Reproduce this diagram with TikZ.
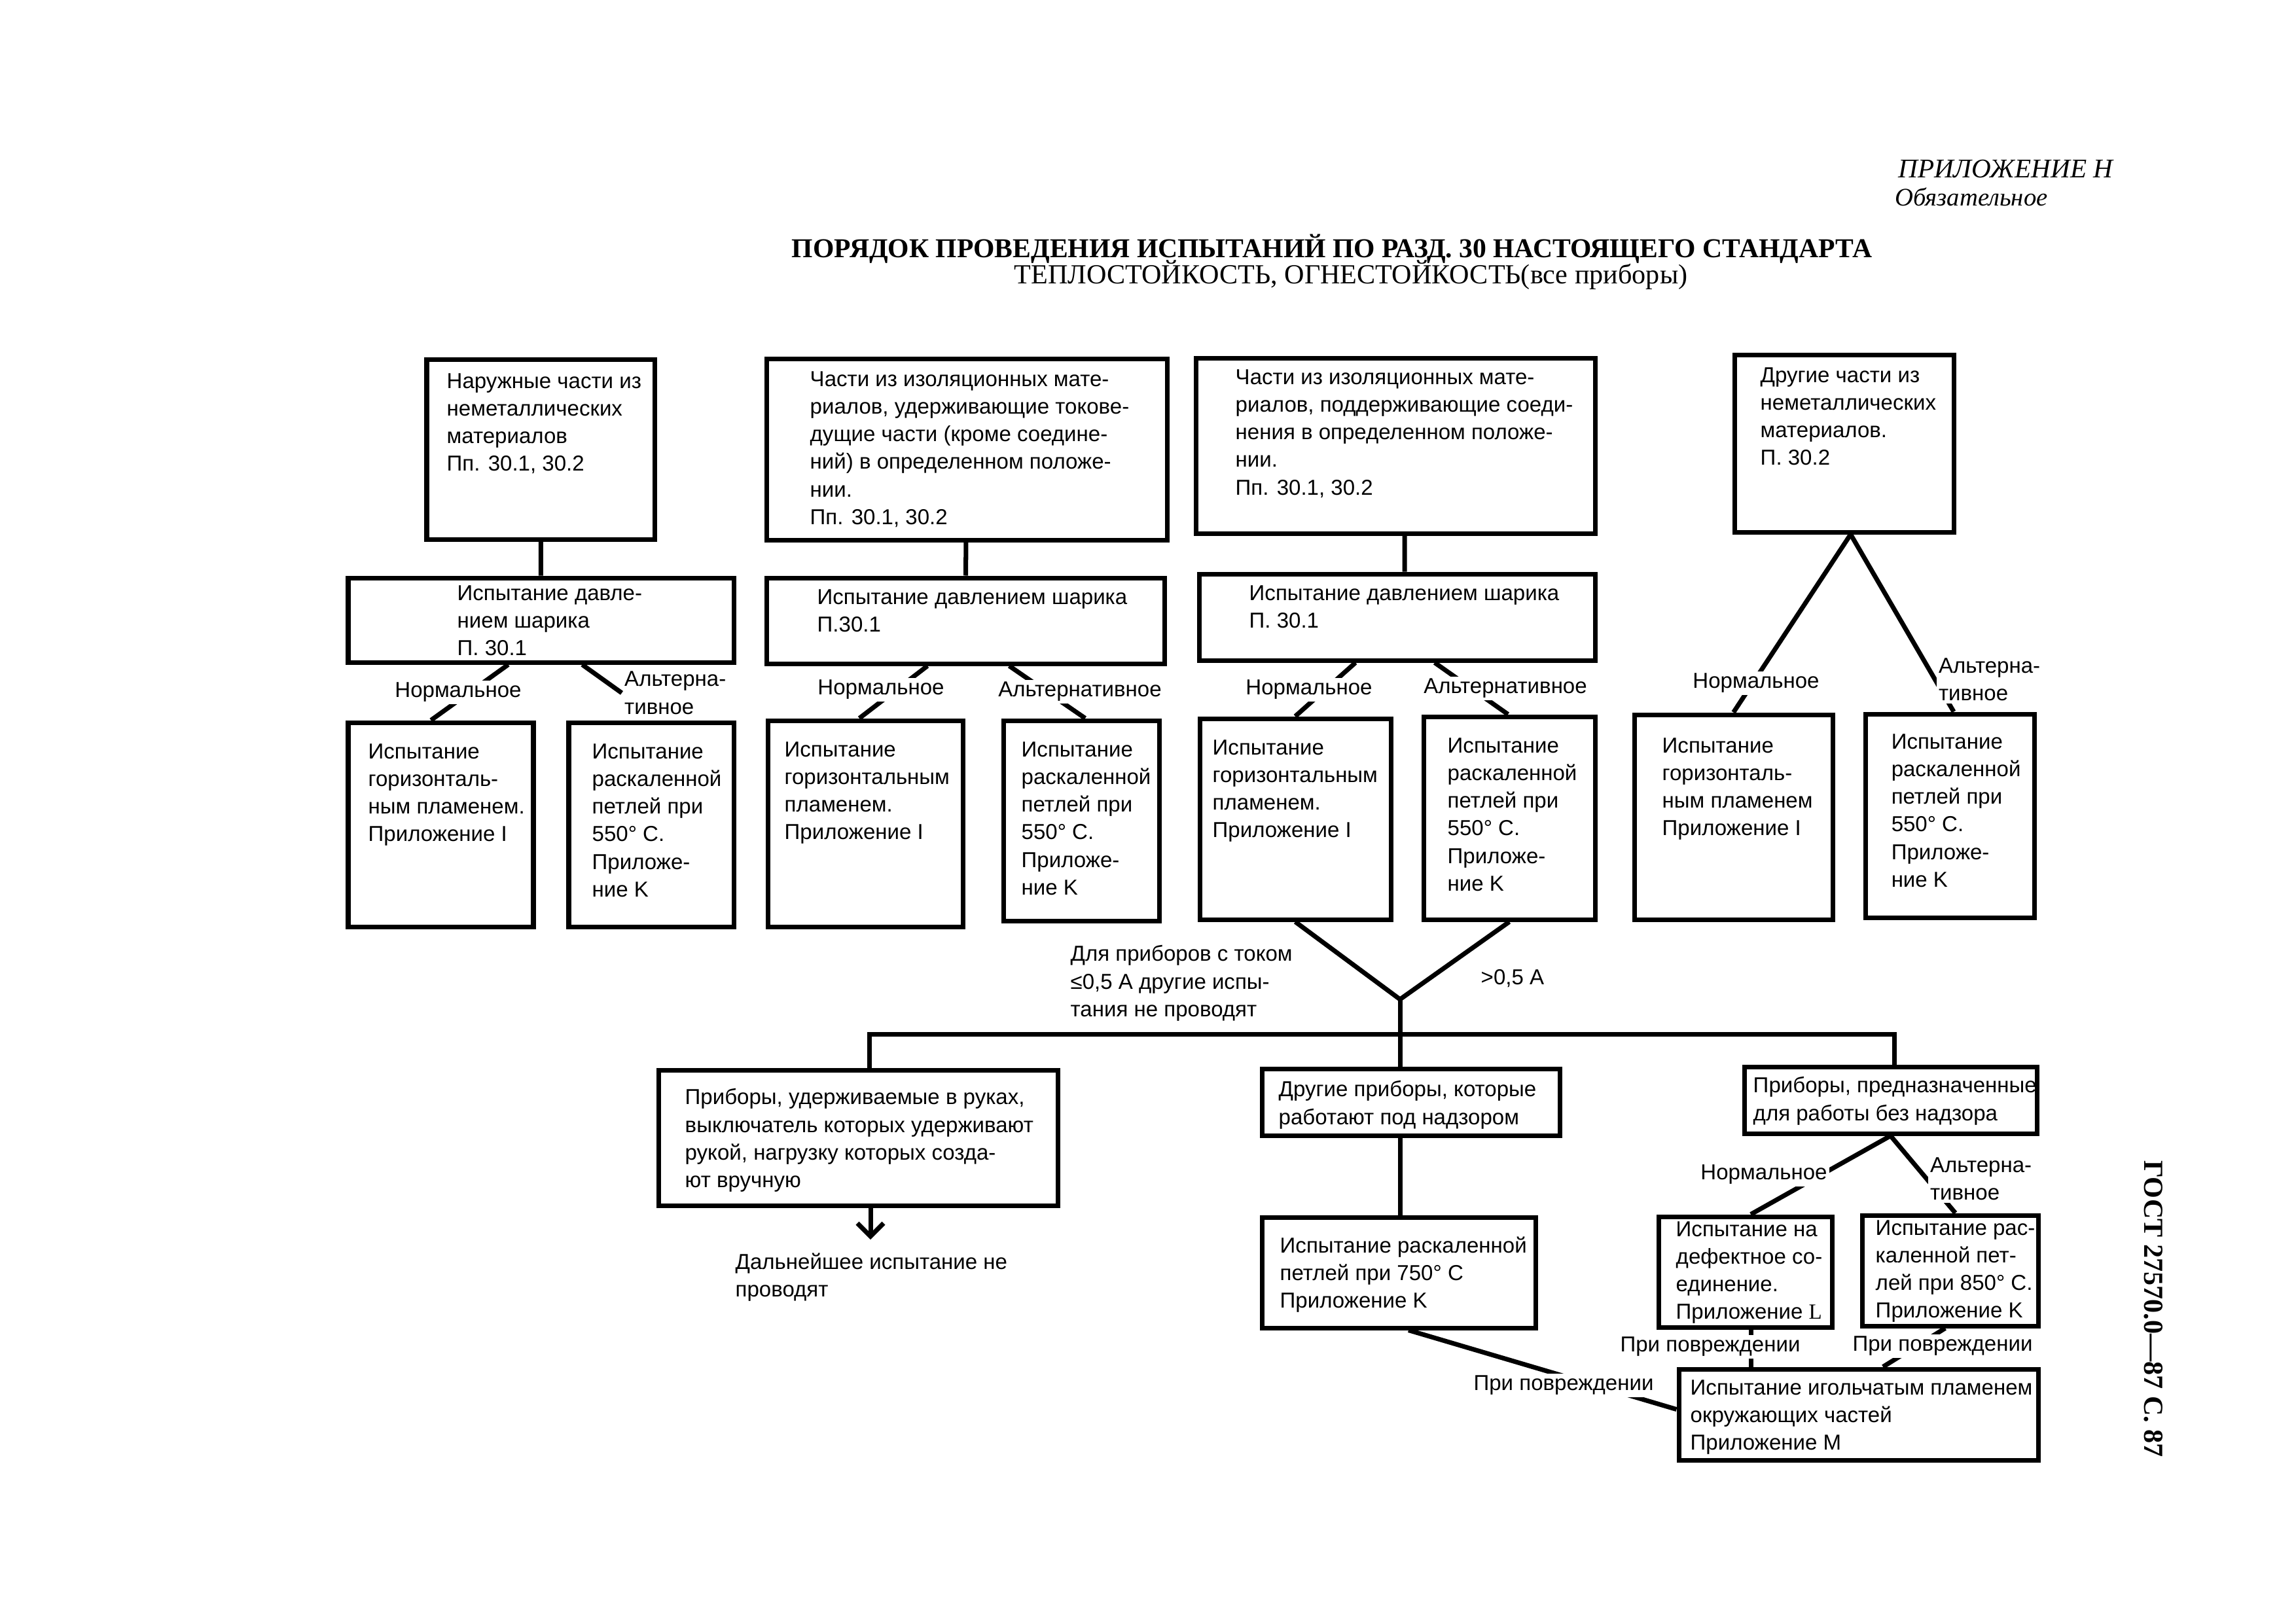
\documentclass[tikz,border=0pt]{standalone}
\usepackage{fontspec}
\setmainfont{Liberation Sans}
\newfontfamily\gostserif{Liberation Serif}
\usetikzlibrary{arrows.meta}
\newcommand*{\boxfont}{\fontsize{9.4}{12}\selectfont}
\newcommand*{\degsign}{°}

\begin{document}
\begin{tikzpicture}[>={Straight Barb[length=2mm,width=4mm]},
    blk/.style={draw,line width=2pt,inner sep=0pt},
    txt/.style={anchor=north west,inner sep=0pt,align=left,font=\boxfont},
    lbl/.style={fill=white,inner sep=1pt,align=left,font=\boxfont},
    conn/.style={line width=2pt}]
\useasboundingbox (0,0) rectangle (35.08,-24.79);

% header
\node[anchor=west,font=\gostserif\itshape\fontsize{11.7}{13}\selectfont] (annex) at (28.88,-2.58) {ПРИЛОЖЕНИЕ Н};
\node[anchor=west,font=\gostserif\itshape\fontsize{11}{13}\selectfont] (oblig) at (28.83,-3.01) {Обязательное};
\node[font=\gostserif\bfseries\fontsize{11.85}{14}\selectfont] (title) at (20.35,-3.80) {ПОРЯДОК ПРОВЕДЕНИЯ ИСПЫТАНИЙ ПО РАЗД. 30 НАСТОЯЩЕГО СТАНДАРТА};
\node[font=\gostserif\fontsize{12}{14}\selectfont] (subtitle) at (20.64,-4.20) {ТЕПЛОСТОЙКОСТЬ, ОГНЕСТОЙКОСТЬ(все приборы)};
\node[rotate=-90,font=\gostserif\bfseries\fontsize{12}{14}\selectfont] (gost) at (32.90,-20.00) {ГОСТ 27570.0—87 С. 87};

% boxes
\node[blk,minimum width=3.48cm,minimum height=2.75cm] (outer) at (8.26,-6.865) {};
\node[blk,minimum width=6.12cm,minimum height=2.77cm] (holdparts) at (14.77,-6.865) {};
\node[blk,minimum width=6.10cm,minimum height=2.68cm] (supparts) at (21.32,-6.81) {};
\node[blk,minimum width=3.35cm,minimum height=2.71cm] (otherparts) at (28.175,-6.775) {};
\node[blk,minimum width=5.89cm,minimum height=1.29cm] (ball1) at (8.265,-9.475) {};
\node[blk,minimum width=6.08cm,minimum height=1.31cm] (ball2) at (14.75,-9.485) {};
\node[blk,minimum width=6.05cm,minimum height=1.32cm] (ball3) at (21.345,-9.43) {};
\node[blk,minimum width=2.83cm,minimum height=3.12cm] (flame1) at (6.735,-12.60) {};
\node[blk,minimum width=2.52cm,minimum height=3.12cm] (loop1) at (9.95,-12.60) {};
\node[blk,minimum width=2.98cm,minimum height=3.15cm] (flame2) at (13.22,-12.585) {};
\node[blk,minimum width=2.38cm,minimum height=3.06cm] (loop2) at (16.52,-12.54) {};
\node[blk,minimum width=2.92cm,minimum height=3.07cm] (flame3) at (19.79,-12.515) {};
\node[blk,minimum width=2.62cm,minimum height=3.10cm] (loop3) at (23.06,-12.50) {};
\node[blk,minimum width=3.03cm,minimum height=3.13cm] (flame4) at (26.485,-12.485) {};
\node[blk,minimum width=2.58cm,minimum height=3.11cm] (loop4) at (29.79,-12.465) {};
\node[blk,minimum width=6.10cm,minimum height=2.07cm] (handheld) at (13.11,-17.385) {};
\node[blk,minimum width=4.55cm,minimum height=1.02cm] (attended) at (21.555,-16.84) {};
\node[blk,minimum width=4.18cm,minimum height=1.69cm] (loop750) at (21.37,-19.445) {};
\node[blk,minimum width=4.47cm,minimum height=1.02cm] (unattended) at (28.885,-16.81) {};
\node[blk,minimum width=2.65cm,minimum height=1.69cm] (defect) at (26.665,-19.435) {};
\node[blk,minimum width=2.69cm,minimum height=1.69cm] (loop850) at (29.795,-19.415) {};
\node[blk,minimum width=5.49cm,minimum height=1.39cm] (needle) at (28.395,-21.615) {};

% box texts
\node[txt] (outer-t) at (6.82,-5.70) {Наружные части из\\неметаллических\\материалов\\Пп. 30.1, 30.2};
\node[txt] (holdparts-t) at (12.37,-5.67) {Части из изоляционных мате-\\риалов, удерживающие токове-\\дущие части  (кроме соедине-\\ний)  в определенном положе-\\нии.\\Пп. 30.1, 30.2};
\node[txt] (supparts-t) at (18.87,-5.64) {Части из изоляционных мате-\\риалов, поддерживающие соеди-\\нения в определенном положе-\\нии.\\Пп. 30.1, 30.2};
\node[txt] (otherparts-t) at (26.89,-5.61) {Другие части из\\неметаллических\\материалов.\\П. 30.2};
\node[txt] (ball1-t) at (6.98,-8.94) {Испытание давле-\\нием шарика\\П. 30.1};
\node[txt] (ball2-t) at (12.48,-9.00) {Испытание давлением шарика\\П.30.1};
\node[txt] (ball3-t) at (19.08,-8.94) {Испытание давлением шарика\\П. 30.1};
\node[txt] (flame1-t) at (5.62,-11.36) {Испытание\\горизонталь-\\ным пламенем.\\Приложение I};
\node[txt] (loop1-t) at (9.04,-11.36) {Испытание\\раскаленной\\петлей при\\550\degsign{} С.\\Приложе-\\ние K};
\node[txt] (flame2-t) at (11.98,-11.33) {Испытание\\горизонтальным\\пламенем.\\Приложение I};
\node[txt] (loop2-t) at (15.60,-11.33) {Испытание\\раскаленной\\петлей при\\550\degsign{} С.\\Приложе-\\ние K};
\node[txt] (flame3-t) at (18.52,-11.30) {Испытание\\горизонтальным\\пламенем.\\Приложение I};
\node[txt] (loop3-t) at (22.11,-11.27) {Испытание\\раскаленной\\петлей при\\550\degsign{} С.\\Приложе-\\ние K};
\node[txt] (flame4-t) at (25.39,-11.27) {Испытание\\горизонталь-\\ным пламенем\\Приложение I};
\node[txt] (loop4-t) at (28.89,-11.21) {Испытание\\раскаленной\\петлей при\\550\degsign{} С.\\Приложе-\\ние K};
\node[txt] (handheld-t) at (10.46,-16.63) {Приборы, удерживаемые в руках,\\выключатель которых удерживают\\рукой, нагрузку которых созда-\\ют вручную};
\node[txt] (attended-t) at (19.53,-16.51) {Другие приборы, которые\\работают под надзором};
\node[txt] (loop750-t) at (19.55,-18.89) {Испытание раскаленной\\петлей при 750\degsign{} С\\Приложение K};
\node[txt] (unattended-t) at (26.78,-16.45) {Приборы, предназначенные\\для работы без надзора};
\node[txt] (defect-t) at (25.60,-18.66) {Испытание на\\дефектное со-\\единение.\\Приложение {\gostserif L}};
\node[txt] (loop850-t) at (28.65,-18.64) {Испытание рас-\\каленной пет-\\лей при 850\degsign{} С.\\Приложение K};
\node[txt] (needle-t) at (25.82,-21.08) {Испытание игольчатым пламенем\\окружающих частей\\Приложение М};
\node[txt] (stop) at (11.23,-19.14) {Дальнейшее испытание не\\проводят};
\node[txt] (low) at (16.35,-14.44) {Для приборов с током\\≤0,5 А другие испы-\\тания не проводят};
\node[txt] (high) at (22.62,-14.81) {>0,5 А};

% parts -> ball pressure
\draw[conn] (outer) -- (ball1);
\draw[conn] (holdparts) -- (ball2);
\draw[conn] ([xshift=1.4mm]supparts.south) -- ([xshift=1.15mm]ball3.north);

% ball pressure -> flame / loop
\node[lbl,anchor=north west] (alt1) at (9.50,-10.22) {Альтерна-\\тивное};
\draw[conn] ([xshift=-5mm]ball1.south) -- ([xshift=-1.5mm]flame1.north) node[lbl] (norm1) at (7.00,-10.58) {Нормальное};
\draw[conn] ([xshift=6.3mm]ball1.south) -- (alt1.west);
\draw[conn] ([xshift=-5.8mm]ball2.south) -- ([xshift=-0.9mm]flame2.north) node[lbl] (norm2) at (13.46,-10.54) {Нормальное};
\draw[conn] ([xshift=6.7mm]ball2.south) -- ([xshift=0.6mm]loop2.north) node[lbl] (alt2) at (16.50,-10.57) {Альтернативное};
\draw[conn] ([xshift=-6.35mm]ball3.south) -- (flame3.north) node[lbl] (norm3) at (20.00,-10.54) {Нормальное};
\draw[conn] ([xshift=5.75mm]ball3.south) -- ([xshift=-0.2mm]loop3.north) node[lbl] (alt3) at (23.00,-10.52) {Альтернативное};
\draw[conn] ([xshift=1mm]otherparts.south) -- (flame4.north) node[lbl] (norm4) at (26.83,-10.44) {Нормальное};
\draw[conn] ([xshift=1mm]otherparts.south) -- ([xshift=0.6mm]loop4.north) node[lbl,anchor=north west] (alt4) at (29.55,-9.99) {Альтерна-\\тивное};

% current split
\coordinate (vtip) at (21.39,-15.27);
\coordinate (bus) at (21.39,-15.80);
\coordinate (stopend) at (13.30,-18.94);
\draw[conn] (flame3.south) -- (vtip) -- (loop3.south);
\draw[conn] (vtip) -- (vtip |- attended.north);
\draw[conn] ([xshift=1.7mm]handheld.north) |- (bus) -| ([xshift=0.6mm]unattended.north);
\draw[conn,->] (handheld.south -| stopend) -- (stopend);
\draw[conn] (attended.south -| vtip) -- (loop750.north -| vtip);

% unattended branch
\draw[conn] (unattended.south) -- ([xshift=0.85mm]defect.north) node[lbl] (norm5) at (26.95,-17.95) {Нормальное};
\draw[conn] (unattended.south) -- ([xshift=0.8mm]loop850.north) node[lbl,anchor=north west] (alt5) at (29.42,-17.62) {Альтерна-\\тивное};

% on damage -> needle flame
\draw[conn] ([xshift=0.85mm]defect.south) -- ([xshift=0.85mm]defect.south |- needle.north) node[lbl] (dmg1) at (26.13,-20.58) {При повреждении};
\draw[conn] ([xshift=-0.75mm]loop850.south) -- ([xshift=3.75mm]needle.north) node[lbl] (dmg2) at (29.68,-20.57) {При повреждении};
\draw[conn] ([xshift=1.5mm]loop750.south) -- ([yshift=0.8mm]needle.west) node[lbl] (dmg3) at (23.89,-21.17) {При повреждении};
\end{tikzpicture}
\end{document}
